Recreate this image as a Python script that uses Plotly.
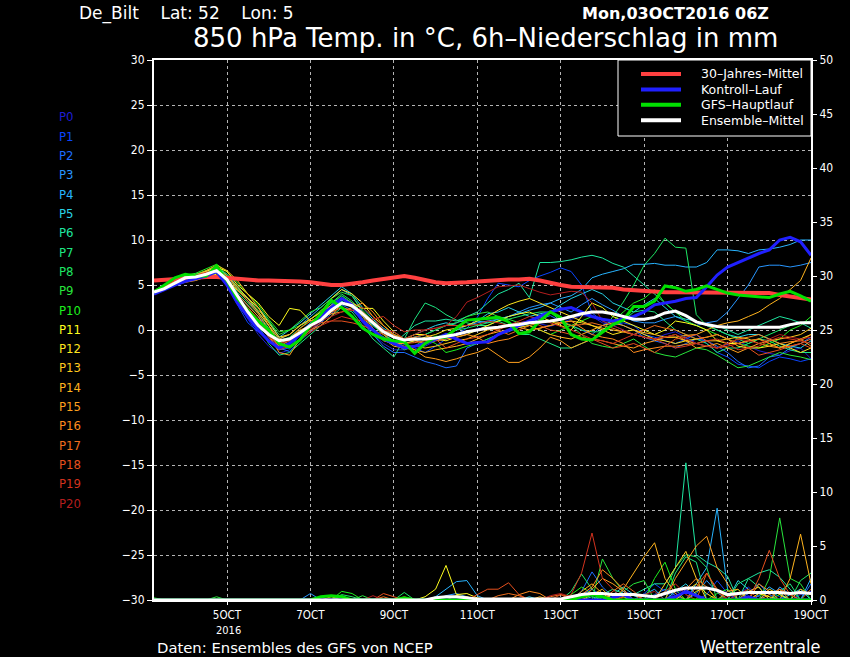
import numpy as np
import pandas as pd
import plotly.graph_objs as go

# forecast steps: every 6h from the run time
t_start = '2016-10-03 06:00'
times = pd.date_range(t_start, periods=64, freq='6h')

member_names = ['P%d' % i for i in range(21)]
member_colors = ['#1e1ed2', '#0a46ff', '#1e6eff', '#2896ff', '#28b4ff', '#28d2e6',
                 '#1ee6a0', '#1ee682', '#1ee664', '#28e63c', '#1ef01e', '#ffff1e',
                 '#ffe61e', '#ffc81e', '#ffb41e', '#ffa01e', '#ff8c1e', '#f06e1e',
                 '#e6501e', '#d2321e', '#b41e1e']

# 850 hPa temperature of the ensemble members (degC)
t_p00 = [4.1, 4.7, 5.3, 5.8, 5.7, 6.0, 6.4, 5.2, 3.0, 1.2, -0.5, -1.8, -2.6, -2.2, -1.0, 0.0,
         1.0, 2.2, 3.2, 2.5, 0.8, -0.5, -1.5, -2.2, -2.2, -1.8, -1.8, -1.2, -1.0, -0.3, -0.5, 0.2,
         0.2, 0.4, 0.5, 0.8, 1.0, 0.7, 0.4, 0.8, 1.2, 1.6, 1.5, 0.8, 0.5, 0.0, -0.5, -0.8,
         -1.0, -0.5, -0.2, -0.8, -1.5, -1.8, -2.0, -1.6, -1.2, -1.8, -2.3, -2.6, -2.8, -2.3, -2.0, -3.2]
t_p01 = [4.0, 4.5, 5.0, 5.5, 5.6, 6.0, 6.5, 5.0, 2.8, 0.8, -0.2, -1.2, -2.2, -2.0, -0.5, 0.5,
         1.5, 2.8, 3.8, 3.0, 1.2, 0.0, -0.8, -1.3, -1.6, -2.0, -2.5, -1.8, -1.0, -0.5, 0.2, 1.4,
         3.5, 5.2, 5.0, 4.8, 5.5, 6.0, 6.4, 6.9, 6.5, 5.0, 1.9, 1.0, 0.5, 0.8, 0.5, -0.5,
         -0.8, -1.2, -1.5, -1.0, -0.5, -1.5, -2.5, -3.0, -3.8, -4.0, -4.2, -3.5, -3.0, -3.2, -3.5, -3.2]
t_p02 = [4.3, 4.8, 5.4, 5.8, 5.9, 6.2, 6.8, 5.5, 3.5, 1.8, 0.6, -0.8, -2.0, -2.4, -1.2, -0.2,
         0.8, 1.8, 2.8, 2.2, 1.0, -0.5, -1.8, -2.5, -2.5, -3.0, -3.5, -3.8, -4.2, -4.0, -2.0, -1.5,
         -1.0, -0.5, -0.2, 0.3, 0.8, 1.2, 1.6, 1.0, 0.5, 0.0, -0.5, 0.5, 1.0, 0.5, 0.0, -0.8,
         -1.2, -1.5, -2.0, -1.5, -1.0, -1.2, -1.8, -2.5, -3.5, -4.2, -4.0, -3.0, -2.8, -2.0, -1.5, -0.8]
t_p03 = [4.2, 4.8, 5.5, 5.8, 6.0, 6.2, 6.6, 5.8, 4.0, 2.8, 1.5, 0.0, -1.5, -1.2, -0.2, 0.8,
         1.8, 2.8, 3.5, 3.0, 1.5, 0.5, -0.5, -1.2, -1.5, -1.2, -1.0, -0.8, -0.5, 0.0, 0.5, 0.8,
         1.0, 1.2, 1.5, 2.0, 2.5, 2.8, 3.0, 2.5, 2.0, 2.8, 3.5, 2.8, 2.2, 1.5, 1.0, 0.8,
         0.8, 1.2, 1.5, 1.0, 0.5, 0.8, 1.0, 2.0, 3.5, 5.0, 7.0, 7.2, 7.2, 7.0, 7.2, 7.5]
t_p04 = [4.0, 4.6, 5.2, 5.8, 6.1, 6.5, 7.0, 6.0, 4.5, 3.2, 2.0, 0.5, -1.0, -0.5, 0.5, 1.5,
         2.5, 3.5, 4.5, 3.8, 2.0, 1.0, 0.0, -0.5, -1.2, -0.8, -0.5, 0.0, 0.5, 0.8, 1.2, 1.0,
         0.8, 1.2, 1.5, 1.8, 2.2, 2.5, 3.0, 3.5, 3.8, 4.5, 5.8, 6.2, 6.5, 6.8, 7.3, 7.3,
         7.4, 7.2, 7.2, 7.0, 7.0, 7.5, 8.9, 8.9, 8.8, 8.5, 8.9, 9.0, 9.2, 9.5, 10.0, 10.0]
t_p05 = [4.3, 4.9, 5.6, 6.0, 6.2, 6.5, 6.9, 6.2, 4.8, 3.5, 2.5, 1.0, -0.8, 0.0, 0.8, 1.8,
         2.8, 3.8, 4.8, 4.0, 2.5, 1.2, 0.2, -0.5, -1.0, -0.5, 0.0, 0.5, 0.8, 0.5, 0.5, 1.0,
         1.8, 2.0, 2.5, 2.0, 1.5, 1.8, 2.0, 2.8, 3.5, 4.0, 4.5, 4.0, 3.0, 2.5, 2.0, 2.8,
         3.5, 2.5, 1.5, 1.2, 1.0, 0.5, 0.0, -0.5, -0.8, -0.5, -0.5, -1.0, -1.5, -1.8, -2.0, -1.2]
t_p06 = [4.1, 4.7, 5.3, 5.7, 5.9, 6.1, 6.5, 5.4, 3.8, 2.2, 1.0, -0.5, -1.8, -1.5, -0.5, 0.5,
         1.5, 2.5, 3.2, 2.5, 1.0, 0.0, -1.0, -1.5, -0.5, 0.5, 1.0, 1.0, 1.2, 1.0, 1.5, 2.0,
         3.0, 4.0, 4.5, 5.2, 3.6, 7.5, 7.5, 7.6, 7.8, 8.1, 8.3, 8.0, 7.4, 7.0, 6.0, 5.0,
         4.0, 3.0, 2.0, 1.5, 1.0, 0.5, 0.5, 0.0, -0.5, 0.0, 0.5, 1.0, 1.5, 1.2, 0.8, 0.2]
t_p07 = [4.0, 4.5, 5.1, 5.5, 5.7, 6.0, 6.3, 5.0, 3.2, 1.8, 0.5, -1.5, -2.8, -2.5, -1.5, -0.5,
         0.5, 1.5, 2.5, 2.0, 0.5, -1.0, -2.0, -3.0, -1.0, 1.2, 3.0, 2.5, 1.7, 1.1, 0.8, 0.5,
         0.5, 1.0, 0.5, -0.5, -0.5, -1.0, -1.5, -2.0, -2.0, -1.5, -1.0, 0.0, 0.5, 1.0, 2.0, 2.2,
         2.0, 1.0, 0.0, -0.5, -1.0, -1.5, -2.5, -2.0, -2.0, -1.5, -1.0, -1.2, -1.8, -2.2, -2.5, -2.5]
t_p08 = [4.2, 4.8, 5.4, 5.8, 6.0, 6.3, 6.8, 5.8, 4.2, 3.0, 1.8, 0.2, -1.2, -0.8, 0.2, 1.2,
         2.0, 3.0, 4.0, 3.2, 1.8, 0.5, -0.5, -1.2, -2.0, -1.8, -1.5, -1.0, -0.5, 0.0, 0.2, 0.5,
         0.8, 1.0, 1.2, 1.5, 1.8, 2.0, 2.0, 1.0, 0.5, 0.0, -0.2, -0.2, 1.5, 3.1, 5.0, 7.2,
         8.5, 10.2, 9.2, 9.1, 1.7, 0.5, 0.0, -0.5, -1.0, -1.5, -1.0, -0.5, 0.0, 0.5, 0.8, 1.0]
t_p09 = [4.3, 4.9, 5.6, 6.0, 6.2, 6.6, 7.1, 6.2, 4.6, 3.5, 2.2, 1.0, -0.5, 0.0, 1.0, 2.0,
         2.5, 3.5, 4.2, 3.8, 2.2, 1.0, 0.0, -0.5, -1.0, -0.8, -0.5, 0.0, 0.5, 0.8, 1.5, 1.8,
         2.0, 1.5, 1.2, 0.8, 0.5, 0.8, 1.0, 0.8, 0.5, -0.5, -1.5, -1.8, -2.0, -1.5, -1.0, -1.8,
         -2.5, -2.8, -3.0, -2.5, -2.0, -2.2, -2.8, -3.5, -4.2, -4.0, -3.5, -3.0, -2.5, -2.8, -3.0, -3.3]
t_p10 = [4.4, 5.0, 5.7, 6.1, 6.3, 6.8, 7.3, 6.5, 5.2, 4.0, 2.8, 1.2, -0.2, 0.0, 0.5, 1.2,
         2.2, 3.0, 3.8, 3.0, 1.2, 0.0, -0.8, -1.5, -2.2, -1.8, -1.0, -1.5, -2.5, -2.2, -1.8, -1.5,
         -1.0, -0.5, 0.0, 0.3, 0.5, 0.0, -0.5, 0.0, 0.5, 1.0, 1.5, 1.2, 1.0, 2.0, 3.0, 3.5,
         4.5, 3.0, 2.0, 1.0, 0.5, 0.0, -0.5, -1.0, -1.5, -1.8, -2.0, -1.5, -1.0, 0.0, 0.5, 1.5]
t_p11 = [4.2, 4.8, 5.4, 5.8, 6.0, 6.5, 7.0, 6.5, 5.0, 4.0, 3.0, 1.5, 0.5, 2.4, 2.2, 1.0,
         1.5, 2.5, 3.5, 3.0, 2.4, 2.4, 1.0, -0.2, -1.0, -0.5, -0.5, -1.0, -1.2, -0.8, -0.5, 0.0,
         0.5, 1.0, 1.5, 1.8, 2.0, 1.5, 1.0, 0.5, 0.0, 1.5, 3.0, 2.5, 1.5, 1.0, 0.5, 0.0,
         -0.5, 0.0, 1.0, 0.8, 0.5, 0.0, -1.2, -1.5, -1.5, -1.2, -1.0, -1.5, -2.0, -1.5, -1.0, -0.5]
t_p12 = [4.0, 4.5, 5.0, 5.4, 5.6, 5.9, 6.2, 5.6, 4.4, 3.5, 2.5, 0.8, -0.8, -0.5, 0.5, 1.2,
         2.0, 3.5, 4.5, 4.0, 3.0, 1.5, 0.5, -0.5, -1.5, -1.2, -0.8, -0.5, 0.0, 0.2, 0.5, 1.0,
         1.5, 2.2, 2.8, 3.2, 3.5, 3.0, 2.5, 2.0, 1.5, 1.0, 0.5, 0.0, -0.5, -0.2, 0.0, -0.5,
         -1.0, -1.2, -1.5, -1.2, -1.0, -0.8, -0.5, -1.0, -1.8, -2.0, -2.0, -1.8, -1.5, -2.0, -2.5, -2.0]
t_p13 = [4.1, 4.7, 5.2, 5.6, 5.8, 6.2, 6.8, 6.0, 4.8, 3.5, 2.0, 0.5, -1.5, -1.0, 0.0, 0.5,
         1.0, 2.0, 3.0, 2.8, 1.8, 0.2, -1.2, -1.5, -1.8, -1.8, -2.0, -1.8, -1.5, -1.2, -1.0, -0.5,
         0.0, 0.2, 0.5, 0.3, 0.0, 0.2, 0.5, 0.8, 1.0, 0.8, 0.5, 0.2, 0.0, -0.2, -0.5, -0.8,
         -1.0, -0.8, -0.8, -1.2, -1.5, -1.2, -1.2, -1.0, -0.8, -1.0, -1.5, -1.2, -1.0, -0.8, -0.5, 0.2]
t_p14 = [4.3, 4.9, 5.5, 5.9, 6.1, 6.6, 7.2, 6.6, 5.5, 4.0, 2.5, 0.5, -1.0, -0.5, 0.5, 1.2,
         2.0, 2.8, 3.5, 2.8, 1.5, 0.0, -1.0, -1.8, -2.0, -2.2, -2.5, -2.2, -2.0, -1.8, -1.5, -1.0,
         -0.5, -0.2, 0.0, 0.3, 0.5, 0.0, -0.5, -0.8, -1.0, -0.5, 0.0, 0.5, 0.8, 0.5, 0.0, -0.3,
         -0.5, -0.8, -0.8, -0.6, -0.5, 0.0, 0.5, 0.8, 1.0, 1.5, 2.0, 2.8, 3.5, 4.5, 5.5, 8.0]
t_p15 = [4.0, 4.5, 5.0, 5.3, 5.5, 5.9, 6.5, 5.2, 4.0, 2.8, 1.5, -0.5, -2.5, -2.8, -1.0, 0.0,
         0.5, 1.5, 3.0, 2.8, 2.0, 0.8, -0.5, -1.5, -1.5, -2.2, -3.0, -3.2, -3.5, -3.2, -2.8, -2.5,
         -2.0, -2.8, -3.6, -3.6, -3.0, -2.0, -0.8, -1.2, -2.0, -1.5, -1.0, -1.2, -1.5, -1.8, -2.0, -1.5,
         -1.2, -0.8, -0.5, -1.2, -2.0, -1.8, -1.5, -2.0, -2.5, -2.0, -1.5, -1.8, -2.0, -1.5, -1.0, -1.8]
t_p16 = [4.2, 4.8, 5.4, 5.8, 6.0, 6.4, 6.9, 6.0, 4.5, 3.2, 1.8, 0.0, -2.0, -1.0, 0.2, 1.0,
         1.5, 1.8, 2.0, 2.5, 3.0, 2.0, 0.5, -0.5, -1.0, -1.2, -1.5, -1.2, -1.0, -0.8, -0.5, -0.8,
         -1.5, -1.2, -1.0, -0.5, 0.0, 0.2, 0.5, 0.8, 1.0, 0.2, -0.5, -0.8, -1.0, -1.5, -2.5, -2.2,
         -2.0, -1.8, -1.8, -1.6, -1.5, -1.8, -2.0, -1.5, -1.0, -0.8, -0.5, -1.0, -1.5, -1.3, -1.2, -0.5]
t_p17 = [4.1, 4.7, 5.3, 5.6, 5.8, 6.1, 6.6, 5.5, 3.6, 2.5, 1.2, -0.5, -1.8, -1.2, -0.5, 0.5,
         1.2, 2.0, 2.5, 2.2, 2.0, 1.0, 0.0, -0.5, -1.5, -1.4, -1.2, -1.0, -0.8, -0.5, -0.2, 0.0,
         0.2, 0.0, -0.5, 0.0, 0.5, 0.8, 1.0, 0.8, 0.5, 0.6, 0.8, 0.5, 0.2, -0.2, -0.5, 0.0,
         0.5, 0.2, 0.0, -0.5, -1.0, -0.8, -0.5, -1.0, -1.5, -1.2, -1.0, -1.5, -2.0, -1.8, -1.5, -1.0]
t_p18 = [4.0, 4.6, 5.1, 5.4, 5.7, 6.0, 6.4, 5.2, 3.4, 2.0, 0.8, -0.8, -2.2, -1.8, -1.0, 0.0,
         0.8, 1.0, 1.0, 0.8, 0.5, 0.0, -0.5, -0.8, -1.0, -0.8, -0.5, -1.0, -2.0, -1.5, -1.0, -0.8,
         -0.5, 0.0, 0.5, 0.8, 1.0, 0.5, 0.0, -0.2, -0.5, -0.8, -1.0, -1.5, -2.0, -1.8, -1.5, -2.0,
         -2.5, -1.8, -1.0, -0.8, -0.5, -1.2, -2.0, -1.8, -1.5, -2.0, -2.8, -2.5, -2.2, -1.8, -1.5, -2.0]
t_p19 = [4.2, 4.9, 5.5, 5.8, 6.1, 6.4, 6.8, 5.3, 3.2, 1.8, 0.8, -0.5, -2.0, -1.8, -1.0, -0.2,
         0.5, 1.0, 1.5, 1.2, 1.0, 1.2, 1.5, 0.5, -0.2, 0.0, 0.0, 0.2, 0.5, 0.5, 0.5, 0.6,
         1.0, 0.8, 0.5, 1.0, 1.5, 1.2, 0.8, 0.4, 0.0, -0.5, -1.0, -1.2, -1.5, -1.0, -0.5, -0.8,
         -1.0, -1.5, -2.0, -1.8, -1.5, -1.2, -1.0, -1.5, -2.2, -2.0, -1.8, -1.2, -0.8, -1.0, -1.2, -1.5]
t_p20 = [4.3, 5.0, 5.6, 5.8, 6.0, 6.3, 6.7, 5.4, 3.5, 2.2, 1.0, -0.2, -1.5, -1.2, -0.5, 0.2,
         1.0, 1.5, 2.0, 2.2, 2.5, 1.5, 0.0, -0.2, -1.0, -0.5, 0.0, 0.2, 0.5, 1.5, 3.1, 3.6,
         4.2, 4.8, 4.9, 5.0, 4.6, 4.2, 3.9, 4.1, 4.3, 4.2, 3.0, 1.0, 0.5, 0.0, -0.5, -0.8,
         -1.0, -0.8, -0.5, -1.0, -1.5, -1.8, -2.0, -1.5, -1.0, -1.2, -1.5, -1.0, -0.5, -0.8, -1.0, -0.8]

# thick lines (degC)
t_clim = [5.5, 5.6, 5.7, 5.8, 5.8, 5.9, 5.9, 5.8, 5.6, 5.5, 5.5, 5.5, 5.5, 5.5, 5.4, 5.3,
          5.1, 5.0, 5.0, 5.1, 5.3, 5.5, 5.7, 5.9, 6.0, 5.8, 5.5, 5.3, 5.2, 5.2, 5.3, 5.4,
          5.5, 5.5, 5.6, 5.6, 5.7, 5.5, 5.2, 5.0, 4.8, 4.8, 4.8, 4.8, 4.7, 4.5, 4.4, 4.3,
          4.3, 4.2, 4.2, 4.2, 4.2, 4.2, 4.2, 4.2, 4.1, 4.1, 4.1, 4.1, 3.9, 3.7, 3.5, 3.4]
t_control = [4.0, 4.5, 5.0, 5.4, 5.7, 6.0, 6.5, 5.0, 3.0, 1.5, 0.0, -1.2, -2.0, -1.5, -0.5, 0.5,
             1.5, 2.5, 3.5, 2.8, 1.0, 0.0, -1.0, -1.5, -2.0, -1.8, -1.5, -1.0, -0.5, -1.0, -1.5, -1.4,
             -1.3, -0.5, 0.0, 0.5, 1.0, 1.5, 2.0, 2.3, 2.5, 2.0, 1.5, 1.2, 1.0, 1.2, 1.5, 2.0,
             2.8, 3.0, 3.2, 3.5, 3.6, 4.8, 6.1, 7.0, 7.5, 8.0, 8.5, 8.9, 10.0, 10.3, 9.8, 8.3]
t_gfs = [4.2, 5.0, 5.8, 6.2, 6.0, 6.0, 7.1, 5.5, 3.5, 2.2, 1.0, 0.0, -1.5, -1.9, -1.1, 0.5,
         1.8, 3.3, 2.5, 1.5, 0.2, -0.5, -1.0, -1.2, -1.3, -2.6, -1.5, -0.8, -0.8, 0.2, 1.1, 1.2,
         1.3, 1.4, 0.9, -0.4, -0.2, 1.0, 2.0, 1.4, -0.5, -1.0, -1.1, -0.2, 0.6, 1.1, 2.6, 2.6,
         3.2, 4.9, 4.7, 4.3, 4.5, 4.9, 4.5, 4.1, 3.9, 3.8, 3.7, 3.6, 4.0, 4.3, 3.8, 3.2]
t_mean = [4.2, 4.6, 5.2, 5.8, 5.9, 6.2, 6.6, 5.6, 3.8, 2.0, 0.5, -0.5, -1.2, -1.0, -0.3, 0.5,
          1.1, 2.2, 3.0, 2.7, 1.8, 0.8, -0.2, -0.8, -1.1, -1.0, -1.0, -0.9, -0.7, -0.5, -0.2, 0.0,
          0.2, 0.3, 0.5, 0.6, 0.8, 0.9, 1.0, 1.2, 1.5, 1.8, 2.0, 2.0, 1.8, 1.5, 1.2, 1.2,
          1.4, 1.9, 2.1, 1.6, 0.9, 0.6, 0.4, 0.3, 0.3, 0.3, 0.3, 0.3, 0.3, 0.6, 0.8, 0.8]

# 6h precipitation of the members (mm), {6h step: amount}, other steps dry
r_p00 = {44: 0.3, 45: 0.8, 46: 0.5, 50: 0.6, 51: 1.0, 52: 0.4, 56: 0.5, 57: 1.2, 58: 0.3, 62: 0.5, 63: 0.8}
r_p01 = {41: 0.5, 42: 1.0, 43: 0.4, 47: 0.6, 48: 1.5, 49: 0.8, 53: 0.5, 54: 1.8, 55: 0.6, 59: 0.8, 60: 0.3}
r_p02 = {41: 0.8, 42: 2.6, 43: 1.2, 44: 0.3, 48: 0.5, 49: 1.0, 50: 0.4, 57: 0.6, 58: 1.5, 59: 0.5, 63: 1.5}
r_p03 = {15: 0.6, 28: 0.4, 29: 0.6, 30: 0.3, 45: 0.8, 46: 0.4, 52: 0.6, 53: 1.8, 54: 0.7, 60: 1.2, 61: 0.5}
r_p04 = {27: 0.3, 28: 1.0, 29: 1.7, 30: 1.8, 31: 0.4, 47: 0.5, 48: 1.0, 52: 1.5, 53: 3.0, 54: 8.5, 55: 1.0, 58: 0.4, 59: 1.2, 60: 0.6, 63: 2.0}
r_p05 = {36: 0.3, 44: 0.5, 45: 1.2, 46: 0.5, 50: 0.8, 51: 1.5, 52: 0.5, 56: 1.8, 57: 1.0, 61: 0.5, 62: 1.0}
r_p06 = {42: 0.3, 46: 0.5, 47: 1.0, 48: 1.5, 49: 1.5, 50: 3.0, 51: 12.7, 52: 4.2, 53: 3.5, 54: 3.0, 55: 2.2, 57: 2.0, 58: 2.5, 59: 2.8, 60: 2.1, 61: 1.0}
r_p07 = {18: 0.4, 43: 0.5, 44: 1.0, 45: 0.6, 50: 2.5, 51: 4.0, 52: 3.5, 56: 1.5, 57: 2.0, 58: 1.2, 60: 0.8, 61: 1.5}
r_p08 = {18: 0.5, 19: 0.3, 24: 0.7, 40: 0.8, 41: 2.4, 42: 1.0, 49: 0.8, 50: 3.0, 51: 4.2, 52: 4.0, 53: 3.0, 57: 1.0, 62: 1.8, 63: 2.5}
r_p09 = {6: 0.3, 20: 0.4, 43: 3.8, 44: 2.0, 45: 0.8, 46: 1.5, 47: 1.8, 55: 0.5, 56: 1.0, 59: 2.0, 60: 7.6, 61: 2.0, 62: 1.5}
r_p10 = {0: 0.2, 18: 0.8, 19: 0.6, 40: 0.5, 41: 1.2, 42: 0.6, 48: 2.0, 49: 3.5, 50: 1.0, 54: 0.6, 55: 1.0, 60: 0.5}
r_p11 = {26: 0.3, 27: 1.0, 28: 3.2, 29: 0.5, 30: 0.6, 31: 0.2, 45: 0.3, 46: 0.5, 52: 0.8, 53: 1.2, 58: 0.6, 59: 0.3}
r_p12 = {29: 0.4, 30: 0.3, 44: 0.6, 45: 0.3, 51: 0.8, 52: 1.5, 53: 0.6, 59: 1.0, 60: 0.5}
r_p13 = {42: 0.5, 43: 1.0, 49: 1.5, 50: 3.0, 51: 4.5, 52: 2.0, 57: 0.8, 58: 1.2, 62: 1.0, 63: 0.5}
r_p14 = {17: 0.3, 37: 0.3, 41: 0.8, 42: 1.5, 43: 0.6, 45: 1.0, 46: 2.5, 47: 4.0, 48: 5.3, 49: 2.0, 50: 0.6, 55: 0.8, 56: 1.0, 61: 2.0, 62: 6.1, 63: 1.5}
r_p15 = {42: 1.0, 43: 2.0, 44: 1.5, 45: 0.8, 50: 2.0, 51: 3.5, 52: 5.0, 53: 5.9, 54: 3.0, 55: 1.5, 59: 0.5, 60: 1.0}
r_p16 = {35: 0.5, 36: 0.8, 37: 0.6, 41: 0.5, 42: 1.2, 43: 2.8, 44: 2.0, 45: 1.0, 51: 1.0, 52: 2.0, 53: 1.2, 58: 1.5, 59: 0.8, 63: 1.0}
r_p17 = {22: 0.3, 33: 0.4, 34: 0.6, 35: 0.4, 38: 0.3, 39: 0.5, 40: 0.3, 44: 0.8, 45: 1.5, 46: 0.8, 53: 2.5, 54: 1.0, 60: 1.0, 61: 0.5}
r_p18 = {22: 0.6, 23: 0.3, 31: 0.5, 32: 1.0, 33: 1.0, 34: 1.6, 35: 0.5, 39: 0.5, 45: 0.3, 46: 0.6, 52: 1.2, 53: 2.5, 54: 0.8, 58: 2.0, 59: 4.6, 60: 2.0, 61: 0.5}
r_p19 = {24: 0.3, 40: 0.5, 41: 2.5, 42: 6.2, 43: 2.0, 44: 1.0, 49: 0.8, 50: 1.5, 51: 0.5, 56: 0.5, 57: 1.0}
r_p20 = {21: 0.4, 38: 0.4, 39: 0.6, 40: 0.3, 47: 0.5, 48: 0.8, 55: 0.3, 56: 0.6}

r_control = {44: 0.2, 45: 0.5, 50: 0.3, 51: 0.8, 52: 0.4, 57: 0.3}
r_gfs = {16: 0.3, 17: 0.4, 18: 0.3, 24: 0.2, 41: 0.3, 42: 0.5, 43: 0.3}
r_mean = [0.0] * 27 + [0.2, 0.3, 0.3, 0.2, 0.1, 0.1, 0.1, 0.1, 0.1, 0.1, 0.1, 0.1, 0.1,
                       0.3, 0.5, 0.6, 0.6, 0.5, 0.5, 0.5, 0.4, 0.3, 0.6, 0.9, 1.1, 1.1, 1.1,
                       0.9, 0.5, 0.6, 0.7, 0.7, 0.7, 0.7, 0.6, 0.7, 0.6]

member_temps = [t_p00, t_p01, t_p02, t_p03, t_p04, t_p05, t_p06, t_p07, t_p08, t_p09, t_p10,
                t_p11, t_p12, t_p13, t_p14, t_p15, t_p16, t_p17, t_p18, t_p19, t_p20]
member_rain = [r_p00, r_p01, r_p02, r_p03, r_p04, r_p05, r_p06, r_p07, r_p08, r_p09, r_p10,
               r_p11, r_p12, r_p13, r_p14, r_p15, r_p16, r_p17, r_p18, r_p19, r_p20]

legend_labels = ['30\u2013Jahres\u2013Mittel', 'Kontroll\u2013Lauf', 'GFS\u2013Hauptlauf', 'Ensemble\u2013Mittel']
legend_colors = ['#ff4040', '#2020ff', '#00e000', 'white']

x_ticks = pd.to_datetime(['2016-10-05', '2016-10-07', '2016-10-09', '2016-10-11',
                          '2016-10-13', '2016-10-15', '2016-10-17', '2016-10-19'])
x_ticktext = ['5OCT', '7OCT', '9OCT', '11OCT', '13OCT', '15OCT', '17OCT', '19OCT']

FONT = 'DejaVu Sans Condensed, DejaVu Sans'
WIDE = 'DejaVu Sans'


def full_rain(d):
    vals = np.zeros(len(times))
    for k, v in d.items():
        vals[k] = v
    return vals


fig = go.Figure()

# precipitation spaghetti (right axis)
for name, col, rr in zip(member_names, member_colors, member_rain):
    fig.add_trace(go.Scatter(x=times, y=full_rain(rr), yaxis='y2', mode='lines',
                             line=dict(color=col, width=1), name=name))
fig.add_trace(go.Scatter(x=times, y=full_rain(r_control), yaxis='y2', mode='lines',
                         line=dict(color=legend_colors[1], width=3)))
fig.add_trace(go.Scatter(x=times, y=full_rain(r_gfs), yaxis='y2', mode='lines',
                         line=dict(color=legend_colors[2], width=3)))
fig.add_trace(go.Scatter(x=times, y=r_mean, yaxis='y2', mode='lines',
                         line=dict(color=legend_colors[3], width=3)))

# temperature spaghetti
for name, col, tt in zip(member_names, member_colors, member_temps):
    fig.add_trace(go.Scatter(x=times, y=tt, mode='lines', line=dict(color=col, width=1), name=name))

for lab, col, tt, w in zip(legend_labels, legend_colors, [t_clim, t_control, t_gfs, t_mean], [4, 3, 3, 3]):
    fig.add_trace(go.Scatter(x=times, y=tt, mode='lines', name=lab, line=dict(color=col, width=w)))

L, R, T, B = 154, 811, 60, 600


def px(x):
    return (x - L) / (R - L)


def py(y):
    return (B - y) / (B - T)


ann = []
for i, (name, col) in enumerate(zip(member_names, member_colors)):
    ann.append(dict(x=px(57), y=py(117 + 19.3 * i), text=name, font=dict(color=col, size=13),
                    xanchor='left'))
ann.append(dict(x=px(77), y=py(14),
                text='De_Bilt&nbsp;&nbsp;&nbsp;&nbsp;Lat: 52&nbsp;&nbsp;&nbsp;&nbsp;Lon: 5',
                xanchor='left', font=dict(size=17, family=WIDE)))
ann.append(dict(x=px(771), y=py(14), text='<b>Mon,03OCT2016 06Z</b>', xanchor='right',
                font=dict(size=16, family=WIDE)))
ann.append(dict(x=px(485), y=py(38), text='850 hPa Temp. in \u00b0C, 6h\u2013Niederschlag in mm',
                xanchor='center', font=dict(size=26, family=WIDE)))
ann.append(dict(x=px(155), y=py(647), text='Daten: Ensembles des GFS von NCEP', xanchor='left',
                font=dict(size=14.8, family=WIDE)))
ann.append(dict(x=px(822), y=py(646), text='Wetterzentrale', xanchor='right', font=dict(size=18)))
ann.append(dict(x=px(228), y=py(630), text='2016', xanchor='center', font=dict(size=11)))

# legend box drawn in the upper right corner
shapes = [dict(type='rect', xref='paper', yref='paper', x0=px(618), x1=1, y0=py(136), y1=1,
               line=dict(color='white', width=1), fillcolor='black', layer='above')]
for i, (lab, col) in enumerate(zip(legend_labels, legend_colors)):
    yy = py(74 + 15.4 * i)
    shapes.append(dict(type='line', xref='paper', yref='paper', x0=px(641), x1=px(681),
                       y0=yy, y1=yy, line=dict(color=col, width=4), layer='above'))
    ann.append(dict(x=px(699), y=yy, text=lab, xanchor='left', font=dict(size=12.5, family=WIDE)))

for a in ann:
    a.update(xref='paper', yref='paper', showarrow=False, yanchor='middle')
    a['font'].setdefault('color', 'white')
    a['font'].setdefault('family', FONT)

grid = dict(showgrid=True, gridcolor='#b4b4b4', griddash='dot', gridwidth=1)

fig.update_layout(
    width=850, height=657,
    margin=dict(l=L, r=850 - R, t=T, b=657 - B),
    paper_bgcolor='black', plot_bgcolor='black',
    font=dict(family=FONT, color='white', size=12),
    showlegend=False,
    xaxis=dict(type='date', range=['2016-10-03 06:00', '2016-10-19 00:00'],
               tickvals=x_ticks, ticktext=x_ticktext, ticks='outside', ticklen=3,
               tickcolor='white', linecolor='white', linewidth=2, mirror=True,
               zeroline=False, tickfont=dict(size=11.5), **grid),
    yaxis=dict(range=[-30, 30], dtick=5, ticks='outside', ticklen=5, tickcolor='white',
               linecolor='white', linewidth=2, mirror=True, zeroline=False,
               tickfont=dict(size=12), **grid),
    yaxis2=dict(range=[0, 50], dtick=5, overlaying='y', side='right', ticks='outside',
                ticklen=5, tickcolor='white', showgrid=False, zeroline=False,
                showline=False, tickfont=dict(size=12)),
    annotations=ann,
    shapes=shapes,
)

fig.write_html("out.html", config={'displayModeBar': False},
               post_script="document.body.style.margin='0';document.body.style.background='black';")
